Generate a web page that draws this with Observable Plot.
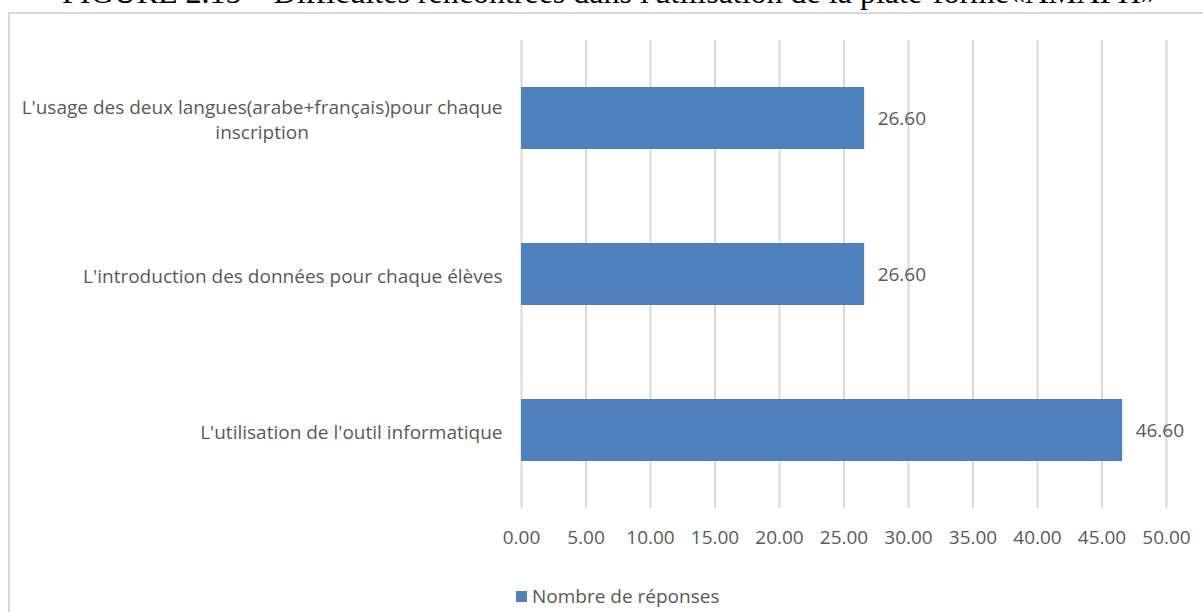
<!DOCTYPE html>
<html>
<head>
<meta charset="utf-8">
<script src="https://cdn.jsdelivr.net/npm/d3@7"></script>
<script src="https://cdn.jsdelivr.net/npm/@observablehq/plot@0.6"></script>
<style>
  body { margin: 0; background: #fff; }
  #wrap { position: relative; width: 1203px; height: 612px; overflow: hidden; background: #fff; }
  #title { position: absolute; left: 62px; top: -26px; font-family: "Liberation Serif", serif; font-size: 32px; line-height: 36px; color: #000; white-space: nowrap; }
  #frame { position: absolute; left: 8px; top: 12px; width: 1230px; height: 660px; border: 2px solid #d9d9d9; box-sizing: border-box; }
  #chart { position: absolute; left: 0; top: 0; }
  #legend { position: absolute; left: 516px; top: 583px; font-family: "Open Sans", sans-serif; font-size: 19px; color: #595959; display: flex; align-items: center; white-space: nowrap; }
  #legend .sw { width: 11px; height: 11px; background: #4f81bd; margin-right: 5px; display: inline-block; }
</style>
</head>
<body>
<div id="wrap">
  <div id="title">FIGURE 2.15 – Difficultés rencontrées dans l'utilisation de la plate-forme«AMAPH»</div>
  <div id="frame"></div>
  <div id="chart"></div>
  <div id="legend"><span class="sw"></span><span>Nombre de réponses</span></div>
</div>
<script>
const categories = [
  "L'usage des deux langues(arabe+français)pour chaque\ninscription",
  "L'introduction des données pour chaque élèves",
  "L'utilisation de l'outil informatique"
];
const values = [26.60, 26.60, 46.60];
const xTicks = [0, 5, 10, 15, 20, 25, 30, 35, 40, 45, 50];
const seriesName = "Nombre de réponses";

const data = categories.map((c, i) => ({category: c, value: values[i], series: seriesName}));

const font = '"Open Sans", sans-serif';
const grey = "#595959";

const plot = Plot.plot({
  width: 1203,
  height: 560,
  marginLeft: 521,
  marginRight: 37,
  marginTop: 40,
  marginBottom: 52,
  style: { fontFamily: font, fontSize: "19px", color: grey, background: "transparent", overflow: "visible" },
  x: { domain: [0, 50], ticks: xTicks, tickFormat: d => d.toFixed(2), label: null },
  y: { domain: categories, padding: 0, label: null },
  marks: [
    Plot.gridX(xTicks, { stroke: "#d9d9d9", strokeOpacity: 1, strokeWidth: 2 }),
    Plot.barX(data, { x: "value", y: "category", fill: "#4f81bd", insetTop: 47, insetBottom: 47 }),
    Plot.text(data, { x: "value", y: "category", text: d => d.value.toFixed(2), textAnchor: "start", dx: 13, fill: grey, fontSize: 19 }),
    Plot.axisX(xTicks, { tickSize: 0, tickPadding: 22, tickFormat: d => d.toFixed(2), fontSize: 19, fill: grey, label: null }),
    Plot.axisY({ tickSize: 0, tickPadding: 19, fontSize: 19, lineHeight: 1.32, fill: grey, label: null, lineWidth: 100 })
  ]
});

document.getElementById("chart").appendChild(plot);

// center multi-line category labels (as in the source chart)
d3.select(plot).selectAll("g[aria-label='y-axis tick label'] text").each(function() {
  const tspans = this.querySelectorAll("tspan");
  if (tspans.length > 1) {
    const w = this.getBBox().width;
    this.setAttribute("text-anchor", "middle");
    const t = this.getAttribute("transform") || "";
    this.setAttribute("transform", t + ` translate(${-w / 2},0)`);
  }
});
</script>
</body>
</html>
